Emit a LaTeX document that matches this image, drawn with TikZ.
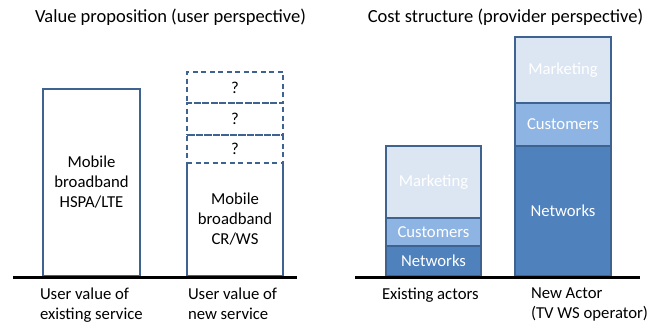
\documentclass[tikz,border=0pt]{standalone}
\usepackage{fontspec}
\setmainfont{Carlito}
\usepackage{xcolor}
\usetikzlibrary{positioning}

\definecolor{netblue}{HTML}{4F81BD}
\definecolor{custblue}{HTML}{8EB4E3}
\definecolor{mktblue}{HTML}{DCE6F2}
\definecolor{edgeblue}{HTML}{3F6391}

\begin{document}
\begin{tikzpicture}[
    x=1pt, y=-1pt,
    every node/.style={inner sep=0pt, outer sep=0pt, font=\fontsize{16.7}{20}\selectfont},
    ttl/.style={anchor=center, font=\fontsize{18.5}{22}\selectfont},
    lbl/.style={anchor=north west, align=left},
    valbox/.style={draw=edgeblue, line width=1.4pt, fill=white, align=center},
    askbox/.style={draw=edgeblue, line width=1.4pt, dash pattern=on 5pt off 3.5pt, minimum width=96pt},
    cost/.style={draw=edgeblue, line width=1.4pt, text=white},
    net/.style={cost, fill=netblue},
    cust/.style={cost, fill=custblue},
    mkt/.style={cost, fill=mktblue},
    ground/.style={line width=3pt, black}
]
\useasboundingbox (0,0) rectangle (657,324);

% Titles
\node[ttl] (vtitle) at (170.5,17) {Value proposition (user perspective)};
\node[ttl] (ctitle) at (505.5,17) {Cost structure (provider perspective)};

% Value side
\node[valbox, minimum width=97pt, minimum height=187pt] (hspa) at (91.5,182.5) {Mobile\\broadband\\HSPA/LTE};
\node[minimum width=96pt, minimum height=113pt, align=center] (crws) at (235,219.5) {Mobile\\broadband\\CR/WS};
\draw[edgeblue, line width=1.4pt] (crws.north west) -- (crws.south west) -- (crws.south east) -- (crws.north east);
\node[askbox, minimum height=28pt, above=0pt of crws] (q1) {?};
\node[askbox, minimum height=32pt, above=0pt of q1] (q2) {?};
\node[askbox, minimum height=31pt, above=0pt of q2] (q3) {?};

% Cost side
\node[net, minimum width=95pt, minimum height=30pt] (netA) at (433.5,261) {Networks};
\node[cust, minimum width=95pt, minimum height=28pt, above=0pt of netA] (custA) {Customers};
\node[mkt, minimum width=95pt, minimum height=72pt, above=0pt of custA] (mktA) {Marketing};
\node[net, minimum width=96pt, minimum height=130pt] (netB) at (563,211) {Networks};
\node[cust, minimum width=96pt, minimum height=43pt, above=0pt of netB] (custB) {Customers};
\node[mkt, minimum width=96pt, minimum height=66pt, above=0pt of custB] (mktB) {Marketing};

% Ground lines
\coordinate (gl1) at (13,277);
\coordinate (gr1) at (297,277);
\coordinate (gl2) at (355,277);
\coordinate (gr2) at (640,277);
\draw[ground] (gl1) -- (gr1);
\draw[ground] (gl2) -- (gr2);

% Labels
\node[lbl] (lexist) at (40,288) {User value of\\existing service};
\node[lbl] (lnew) at (188,288) {User value of\\new service};
\node[lbl] (lactors) at (382,288) {Existing actors};
\node[lbl] (lactor) at (531,288) {New Actor\\(TV WS operator)};
\end{tikzpicture}
\end{document}
